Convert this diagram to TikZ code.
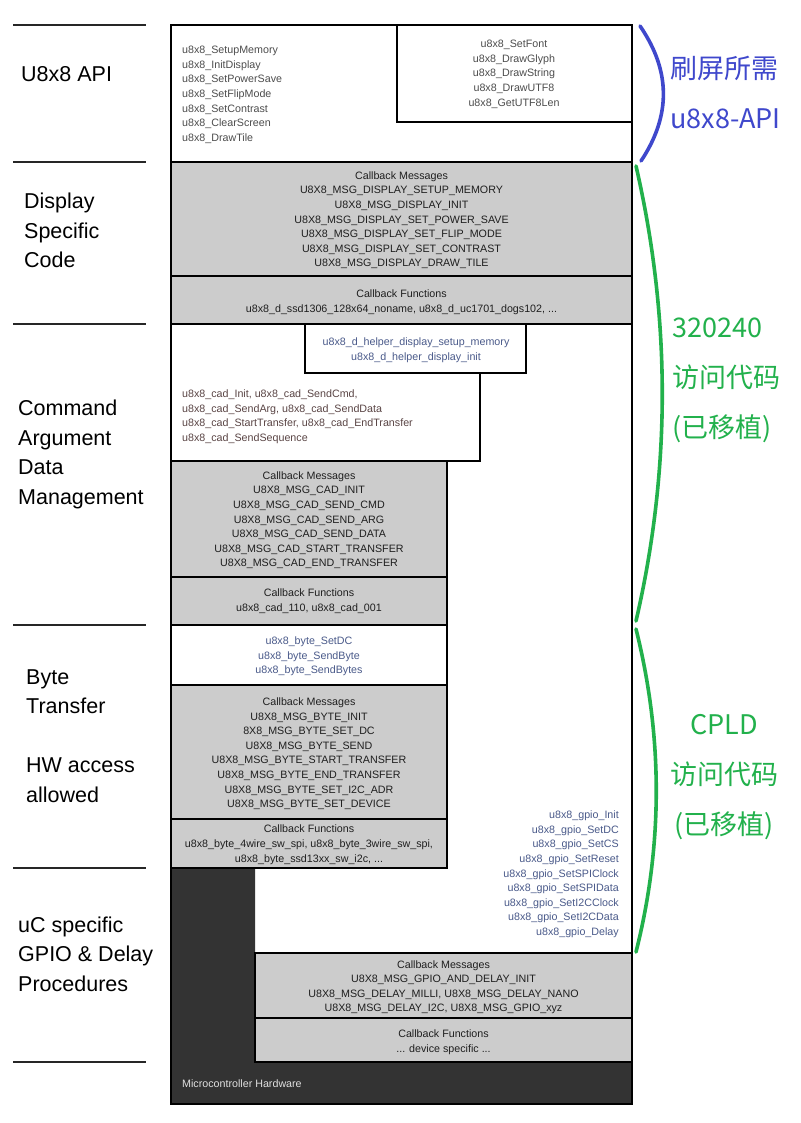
\documentclass[tikz,border=0pt]{standalone}
\usepackage{fontspec}
\setmainfont{Liberation Sans}
\newfontfamily\cjkfont{Noto Sans CJK SC}
\definecolor{boxgray}{HTML}{CCCCCC}
\definecolor{hwdark}{HTML}{333333}
\definecolor{listgray}{HTML}{4D4D4D}
\definecolor{listblue}{HTML}{4A5A8A}
\definecolor{listwarm}{HTML}{5A4545}
\definecolor{apiblue}{HTML}{3F48CC}
\definecolor{portgreen}{HTML}{22B14C}
\begin{document}
\begin{tikzpicture}[x=1pt,y=-1pt,
  small/.style={font=\fontsize{10.7}{14.6}\selectfont, inner sep=0pt, align=center, text=black!88, yshift=-1.8pt},
  big/.style={font=\fontsize{21.5}{29.4}\selectfont, inner sep=0pt, align=left, anchor=west, text=black},
  cjk/.style={font=\cjkfont\fontsize{27}{50}\selectfont, inner sep=0pt},
  box/.style={draw=black, line width=1.4pt},
  graybox/.style={box, fill=boxgray},
  whitebox/.style={box, fill=white},
  sep/.style={draw=black!85, line width=1.5pt},
  brace/.style={line width=3.6pt, line cap=round}
]
\useasboundingbox (0,0) rectangle (800,1123);
\fill[white] (0,0) rectangle (800,1123);

% left separators
\foreach \yy in {25,162,324,625,868,1062} \draw[sep] (13,\yy) -- (146,\yy);

% microcontroller hardware (dark)
\fill[hwdark] (171,868) -- (255,868) -- (255,1062) -- (632,1062) -- (632,1104) -- (171,1104) -- cycle;

% U8x8 API
\draw[box] (171,25) rectangle (632,162);
\draw[box] (397,25) rectangle (632,122);

% display specific
\draw[graybox] (171,162) rectangle (632,276);
\draw[graybox] (171,276) rectangle (632,324);

% command argument data
\draw[whitebox] (171,324) rectangle (480,461);
\draw[whitebox] (305,324) rectangle (526,373);
\draw[graybox] (171,461) rectangle (447,577);
\draw[graybox] (171,577) rectangle (447,625);

% byte transfer
\draw[whitebox] (171,625) rectangle (447,685);
\draw[graybox] (171,685) rectangle (447,819);
\draw[graybox] (171,819) rectangle (447,868);

% gpio
\draw[graybox] (255,953) rectangle (632,1018);
\draw[graybox] (255,1018) rectangle (632,1062);

% outer frame
\draw[box] (171,25) rectangle (632,1104);

% texts in boxes
\node[small, align=left, anchor=west, text=listgray] (apilist) at (182,93)
  {u8x8\_SetupMemory\\u8x8\_InitDisplay\\u8x8\_SetPowerSave\\u8x8\_SetFlipMode\\u8x8\_SetContrast\\u8x8\_ClearScreen\\u8x8\_DrawTile};
\node[small, text=listgray] (fontlist) at (514,72.5)
  {u8x8\_SetFont\\u8x8\_DrawGlyph\\u8x8\_DrawString\\u8x8\_DrawUTF8\\u8x8\_GetUTF8Len};
\node[small] (dispmsg) at (401.5,218.5)
  {Callback Messages\\U8X8\_MSG\_DISPLAY\_SETUP\_MEMORY\\U8X8\_MSG\_DISPLAY\_INIT\\U8X8\_MSG\_DISPLAY\_SET\_POWER\_SAVE\\U8X8\_MSG\_DISPLAY\_SET\_FLIP\_MODE\\U8X8\_MSG\_DISPLAY\_SET\_CONTRAST\\U8X8\_MSG\_DISPLAY\_DRAW\_TILE};
\node[small] (dispfn) at (401.5,300.5)
  {Callback Functions\\u8x8\_d\_ssd1306\_128x64\_noname, u8x8\_d\_uc1701\_dogs102, ...};
\node[small, text=listblue] (helper) at (416,348.5)
  {u8x8\_d\_helper\_display\_setup\_memory\\u8x8\_d\_helper\_display\_init};
\node[small, align=left, anchor=west, text=listwarm] (cadlist) at (182,415)
  {u8x8\_cad\_Init, u8x8\_cad\_SendCmd,\\u8x8\_cad\_SendArg, u8x8\_cad\_SendData\\u8x8\_cad\_StartTransfer, u8x8\_cad\_EndTransfer\\u8x8\_cad\_SendSequence};
\node[small] (cadmsg) at (309,518.5)
  {Callback Messages\\U8X8\_MSG\_CAD\_INIT\\U8X8\_MSG\_CAD\_SEND\_CMD\\U8X8\_MSG\_CAD\_SEND\_ARG\\U8X8\_MSG\_CAD\_SEND\_DATA\\U8X8\_MSG\_CAD\_START\_TRANSFER\\U8X8\_MSG\_CAD\_END\_TRANSFER};
\node[small] (cadfn) at (309,599.5)
  {Callback Functions\\u8x8\_cad\_110, u8x8\_cad\_001};
\node[small, text=listblue] (bytelist) at (309,654.5)
  {u8x8\_byte\_SetDC\\u8x8\_byte\_SendByte\\u8x8\_byte\_SendBytes};
\node[small] (bytemsg) at (309,752)
  {Callback Messages\\U8X8\_MSG\_BYTE\_INIT\\8X8\_MSG\_BYTE\_SET\_DC\\U8X8\_MSG\_BYTE\_SEND\\U8X8\_MSG\_BYTE\_START\_TRANSFER\\U8X8\_MSG\_BYTE\_END\_TRANSFER\\U8X8\_MSG\_BYTE\_SET\_I2C\_ADR\\U8X8\_MSG\_BYTE\_SET\_DEVICE};
\node[small] (bytefn) at (309,843)
  {Callback Functions\\u8x8\_byte\_4wire\_sw\_spi, u8x8\_byte\_3wire\_sw\_spi,\\u8x8\_byte\_ssd13xx\_sw\_i2c, ...};
\node[small, align=right, anchor=east, text=listblue] (gpiolist) at (619,872.5)
  {u8x8\_gpio\_Init\\u8x8\_gpio\_SetDC\\u8x8\_gpio\_SetCS\\u8x8\_gpio\_SetReset\\u8x8\_gpio\_SetSPIClock\\u8x8\_gpio\_SetSPIData\\u8x8\_gpio\_SetI2CClock\\u8x8\_gpio\_SetI2CData\\u8x8\_gpio\_Delay};
\node[small] (gpiomsg) at (443.5,985.5)
  {Callback Messages\\U8X8\_MSG\_GPIO\_AND\_DELAY\_INIT\\U8X8\_MSG\_DELAY\_MILLI, U8X8\_MSG\_DELAY\_NANO\\U8X8\_MSG\_DELAY\_I2C, U8X8\_MSG\_GPIO\_xyz};
\node[small] (gpiofn) at (443.5,1040.5)
  {Callback Functions\\... device specific ...};
\node[small, anchor=west, text=black!12] (mcu) at (182,1082) {Microcontroller Hardware};

% left layer labels
\node[big] (lapi) at (21,74) {U8x8 API};
\node[big] (ldisp) at (24,230.5) {Display\\Specific\\Code};
\node[big] (lcad) at (18,454.5) {Command\\Argument\\Data\\Management};
\node[big] (lbyte) at (26,736) {Byte\\Transfer\\[29.4pt]HW access\\allowed};
\node[big] (lgpio) at (18,954) {uC specific\\GPIO \& Delay\\Procedures};

% right annotations
\draw[brace, apiblue] (640,26) .. controls (671,71) and (671,116) .. (641,161);
\draw[brace, portgreen] (636,166) .. controls (671,318) and (671,470) .. (636,621);
\draw[brace, portgreen] (636,629) .. controls (663,737) and (663,845) .. (636,952);

\node[cjk, align=left, anchor=west, text=apiblue] (rapi) at (670,92.5) {刷屏所需\\u8x8-API};
\node[cjk, align=left, anchor=west, text=portgreen] (rport) at (672,380.5) {320240\\访问代码\\(已移植)};
\node[cjk, align=center, text=portgreen] (rcpld) at (724,777) {CPLD\\访问代码\\(已移植)};
\end{tikzpicture}
\end{document}
